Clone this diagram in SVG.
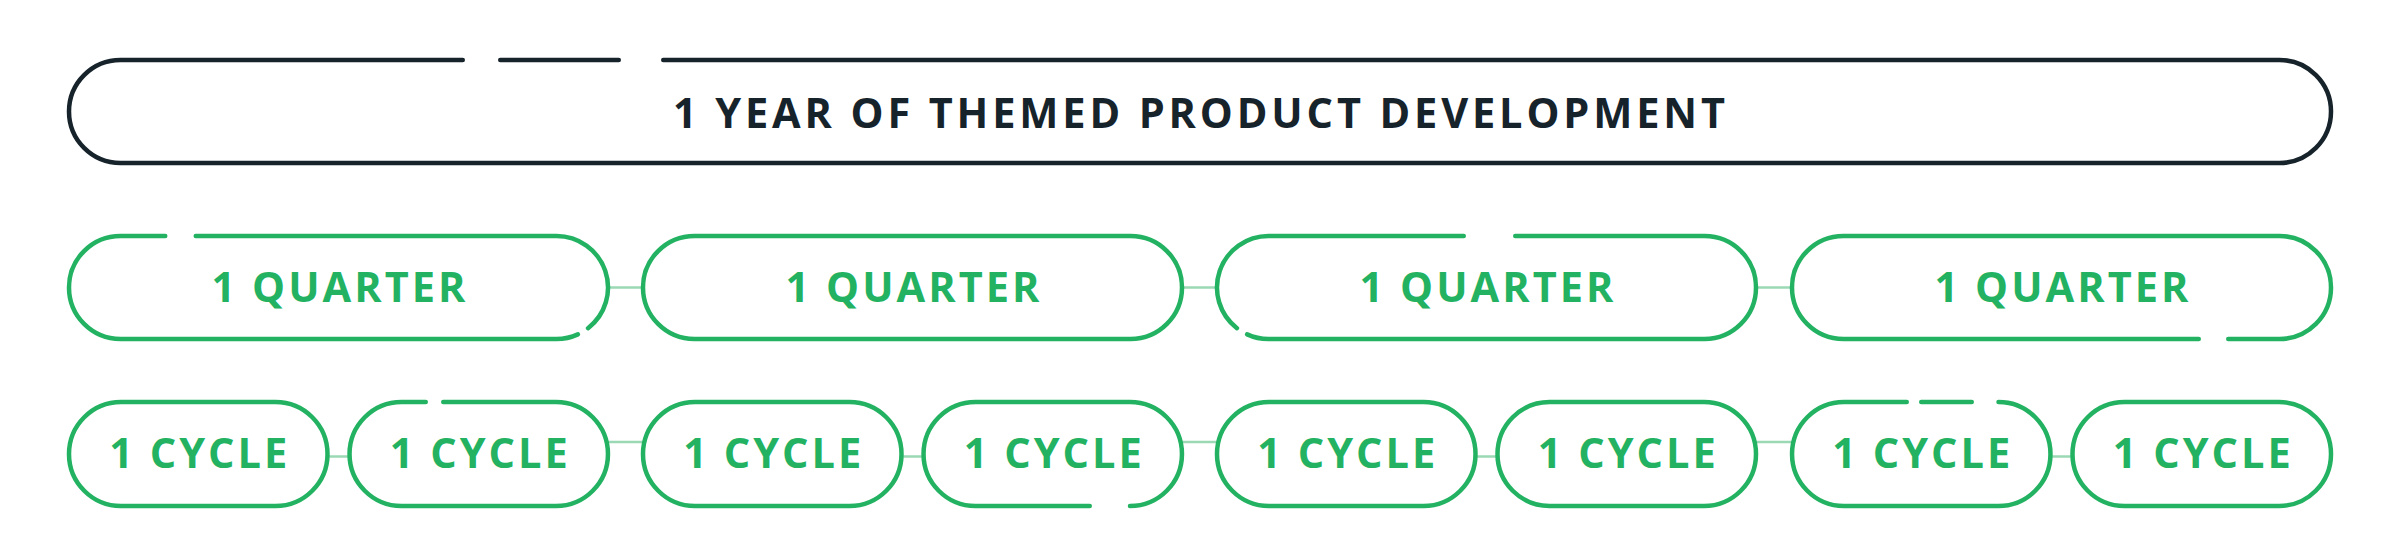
<svg xmlns="http://www.w3.org/2000/svg" width="2399" height="551" viewBox="0 0 2399 551">
<style>
.pill{fill:none;stroke-width:4.5;stroke-linecap:round;stroke-linejoin:round}
.dark{stroke:#17232b}
.green{stroke:#22b262}
.conn{fill:none;stroke:#9ad9b4;stroke-width:2.5}
text{font-family:"Open Sans","Liberation Sans",sans-serif;font-weight:700;font-size:41.5px;text-anchor:middle}
.tdark{fill:#17232b}
.tgreen{fill:#22b262}
</style>
<rect width="2399" height="551" fill="#ffffff"/>
<g id="connectors">
<line class="conn" x1="608" y1="287.5" x2="643" y2="287.5"/>
<line class="conn" x1="1182" y1="287.5" x2="1217" y2="287.5"/>
<line class="conn" x1="1756" y1="287.5" x2="1792" y2="287.5"/>
<line class="conn" x1="327.5" y1="456.5" x2="349.5" y2="456.5"/>
<line class="conn" x1="901.5" y1="456.5" x2="923.5" y2="456.5"/>
<line class="conn" x1="1475.5" y1="456.5" x2="1497.5" y2="456.5"/>
<line class="conn" x1="2050.5" y1="456.5" x2="2072.5" y2="456.5"/>
<line class="conn" x1="608" y1="442" x2="643" y2="442"/>
<line class="conn" x1="1182" y1="442" x2="1217" y2="442"/>
<line class="conn" x1="1756" y1="442" x2="1792" y2="442"/>
</g>
<g id="year">
<path class="pill dark" d="M663.25 60 H2279.5 A51.5 51.5 0 0 1 2279.5 163 H120.5 A51.5 51.5 0 0 1 120.5 60 H462.75"/>
<path class="pill dark" d="M500.25 60 H618.75"/>
<text class="tdark" x="1199" y="128" textLength="1052" lengthAdjust="spacing">1 YEAR OF THEMED PRODUCT DEVELOPMENT</text>
</g>
<g id="quarter1">
<path class="pill green" d="M195.75 236 H556.5 A51.5 51.5 0 0 1 588.06 328.2"/>
<path class="pill green" d="M577.86 334.37 A51.5 51.5 0 0 1 556.5 339 H120.5 A51.5 51.5 0 0 1 120.5 236 H165.25"/>
<text class="tgreen" x="338.5" y="302" textLength="254" lengthAdjust="spacing">1 QUARTER</text>
</g>
<g id="quarter2">
<rect class="pill green" x="643" y="236" width="539" height="103" rx="51.5"/>
<text class="tgreen" x="912.5" y="302" textLength="254" lengthAdjust="spacing">1 QUARTER</text>
</g>
<g id="quarter3">
<path class="pill green" d="M1515.25 236 H1704.5 A51.5 51.5 0 0 1 1704.5 339 H1268.5 A51.5 51.5 0 0 1 1247.14 334.37"/>
<path class="pill green" d="M1236.94 328.2 A51.5 51.5 0 0 1 1268.5 236 H1463.75"/>
<text class="tgreen" x="1486.5" y="302" textLength="254" lengthAdjust="spacing">1 QUARTER</text>
</g>
<g id="quarter4">
<path class="pill green" d="M2198.75 339 H1843.5 A51.5 51.5 0 0 1 1843.5 236 H2279.5 A51.5 51.5 0 0 1 2279.5 339 H2228.25"/>
<text class="tgreen" x="2061.5" y="302" textLength="254" lengthAdjust="spacing">1 QUARTER</text>
</g>
<g id="cycle1">
<rect class="pill green" x="69" y="402" width="258.5" height="104" rx="52"/>
<text class="tgreen" x="198.25" y="468" textLength="178" lengthAdjust="spacing">1 CYCLE</text>
</g>
<g id="cycle2">
<path class="pill green" d="M443.25 402 H556 A52 52 0 0 1 556 506 H401.5 A52 52 0 0 1 401.5 402 H425.75"/>
<text class="tgreen" x="478.75" y="468" textLength="178" lengthAdjust="spacing">1 CYCLE</text>
</g>
<g id="cycle3">
<rect class="pill green" x="643" y="402" width="258.5" height="104" rx="52"/>
<text class="tgreen" x="772.25" y="468" textLength="178" lengthAdjust="spacing">1 CYCLE</text>
</g>
<g id="cycle4">
<path class="pill green" d="M1089.75 506 H975.5 A52 52 0 0 1 975.5 402 H1130 A52 52 0 0 1 1130 506"/>
<text class="tgreen" x="1052.75" y="468" textLength="178" lengthAdjust="spacing">1 CYCLE</text>
</g>
<g id="cycle5">
<rect class="pill green" x="1217" y="402" width="258.5" height="104" rx="52"/>
<text class="tgreen" x="1346.25" y="468" textLength="178" lengthAdjust="spacing">1 CYCLE</text>
</g>
<g id="cycle6">
<rect class="pill green" x="1497.5" y="402" width="258.5" height="104" rx="52"/>
<text class="tgreen" x="1626.75" y="468" textLength="178" lengthAdjust="spacing">1 CYCLE</text>
</g>
<g id="cycle7">
<path class="pill green" d="M1998.5 402 A52 52 0 0 1 1998.5 506 H1844 A52 52 0 0 1 1844 402 H1906.75"/>
<path class="pill green" d="M1921.25 402 H1971.75"/>
<text class="tgreen" x="1921.25" y="468" textLength="178" lengthAdjust="spacing">1 CYCLE</text>
</g>
<g id="cycle8">
<rect class="pill green" x="2072.5" y="402" width="258.5" height="104" rx="52"/>
<text class="tgreen" x="2201.75" y="468" textLength="178" lengthAdjust="spacing">1 CYCLE</text>
</g>
</svg>
